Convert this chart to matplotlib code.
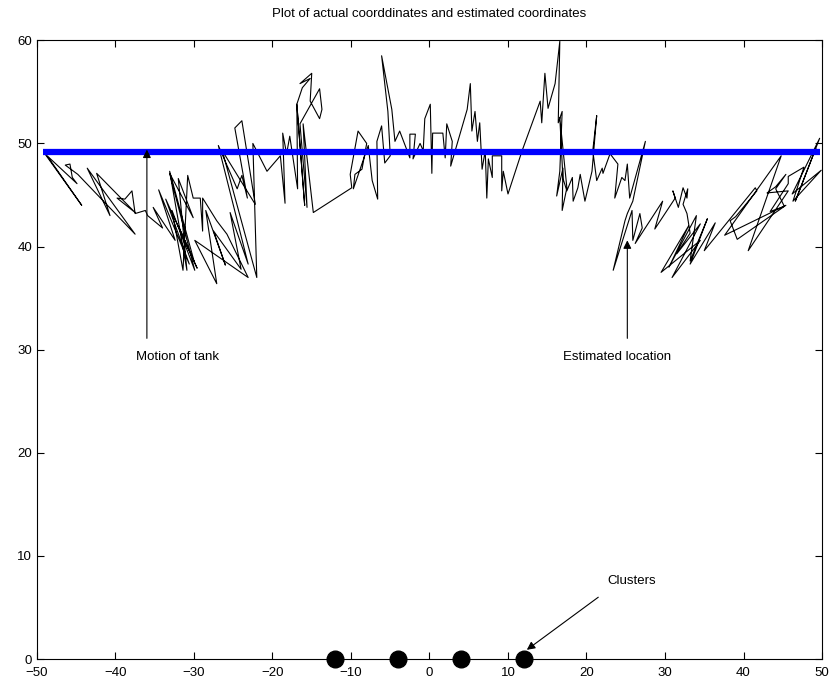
import numpy as np
import matplotlib.pyplot as plt

plt.rcParams['font.family'] = ['Liberation Sans', 'DejaVu Sans']

# estimated tank coordinates
est_x = [-49.0, -44.3, -48.7, -44.9, -45.5, -45.8, -46.4, -44.8, -37.5, -43.6,
         -40.7, -42.4, -37.5, -39.8, -38.8, -37.9, -37.5, -36.2, -35.9, -34.0,
         -35.2, -32.4, -34.5, -30.6, -33.6, -29.6, -32.0, -30.0,
         -33.1, -30.9, -32.0, -30.1, -33.1, -29.9, -32.8, -31.4,
         -30.8, -30.1, -29.2, -28.9, -28.9, -27.1, -25.8, -23.1, -29.9, -27.1,
         -28.5, -26.0, -27.5, -24.0,
         -25.4, -23.1, -26.9, -24.5, -23.9, -23.2, -24.8, -23.9, -22.2, -26.4,
         -22.0, -22.5, -20.7, -19.0, -18.4, -18.7, -18.2, -17.8, -16.8, -16.9,
         -15.9, -16.9, -16.2, -15.2, -16.5, -15.0, -15.2, -14.0, -13.7, -14.0,
         -16.5, -15.6, -16.1, -14.8, -9.9, -10.1, -9.1, -8.0, -8.6, -9.5,
         -9.7, -7.8, -7.3, -6.6, -6.7, -6.1, -5.7, -5.0, -5.3, -6.1,
         -4.8, -4.4, -3.8, -2.5, -2.5, -1.8, -2.1, -1.2, -0.8, -0.6,
         0.1, 0.3, 0.4, 1.7, 2.0, 2.2, 2.9, 2.7, 4.8, 5.2,
         5.4, 5.8, 6.1, 6.4, 6.7, 7.1, 7.3, 7.5, 8.0, 8.0,
         9.2, 9.2, 9.4, 10.0, 11.8, 14.1, 14.3, 14.7, 15.1, 16.0,
         16.6, 16.4, 16.9, 16.6, 16.2, 17.0, 16.9, 17.5, 16.6, 17.0,
         17.5, 18.2, 18.3, 18.9, 19.2, 19.8, 20.7, 21.3, 20.8, 21.3,
         22.0, 22.1, 23.0, 24.0, 23.6, 24.5, 24.9, 25.2, 25.5, 27.5,
         25.9, 25.2, 24.9, 23.4, 25.8, 25.9, 26.8, 27.1, 26.2, 29.7,
         28.7, 31.3, 31.0, 31.7, 32.3, 32.8, 32.9, 32.3, 32.8, 33.2,
         31.5, 34.5, 30.9, 34.5, 29.5, 33.0, 30.5, 34.0,
         33.2, 35.4, 33.2, 36.4, 35.0, 41.5,
         41.7, 39.0, 38.3, 39.2, 45.4, 37.6, 44.8, 40.6, 45.7, 43.0,
         44.1, 45.4, 44.1, 45.2, 43.4, 45.7, 45.7, 47.7, 46.3, 49.9,
         46.2, 49.7, 46.6, 49.2]
est_y = [49.0, 44.0, 48.8, 46.1, 46.7, 48.0, 47.9, 47.0, 41.2, 47.6,
         43.0, 47.1, 43.3, 44.7, 44.6, 45.4, 43.2, 43.5, 43.0, 41.8,
         43.8, 40.6, 45.5, 38.3, 44.6, 37.9, 42.0, 38.6,
         47.3, 37.7, 46.6, 42.8, 47.1, 37.7, 43.5, 37.7,
         46.9, 44.7, 44.7, 41.5, 44.7, 42.5, 41.2, 37.0, 40.6, 36.4,
         43.5, 38.2, 41.5, 37.8,
         43.3, 38.3, 49.8, 45.6, 46.9, 44.7, 51.5, 52.2, 44.1, 49.3,
         37.0, 50.0, 47.3, 48.8, 44.2, 51.0, 49.0, 50.7, 45.6, 53.8,
         44.0, 53.8, 55.4, 56.3, 55.8, 56.8, 54.1, 52.4, 53.3, 55.3,
         51.9, 43.8, 51.9, 43.3, 45.7, 47.0, 51.2, 50.0, 47.5, 47.0,
         45.6, 49.8, 46.4, 44.6, 50.2, 51.7, 48.1, 48.8, 53.1, 58.5,
         53.3, 50.2, 51.2, 48.6, 50.9, 50.9, 48.5, 50.0, 49.3, 52.4,
         53.8, 47.1, 51.0, 51.0, 48.6, 51.9, 50.2, 47.8, 53.3, 55.8,
         51.2, 53.1, 50.2, 52.0, 47.5, 49.3, 44.7, 48.5, 46.7, 48.8,
         48.8, 45.4, 47.3, 45.1, 49.3, 54.1, 52.0, 56.8, 53.4, 55.8,
         59.9, 52.0, 53.1, 47.3, 44.9, 47.6, 43.5, 45.7, 52.5, 46.6,
         45.4, 46.7, 44.4, 45.7, 47.0, 44.4, 47.3, 52.7, 49.3, 46.4,
         47.6, 47.1, 49.0, 48.0, 44.7, 46.7, 46.4, 48.0, 44.7, 50.2,
         44.4, 43.2, 42.5, 37.7, 43.5, 40.6, 43.2, 41.8, 40.3, 44.4,
         41.7, 44.7, 45.4, 43.8, 45.7, 44.7, 45.6, 44.1, 43.2, 41.3,
         39.3, 42.2, 37.0, 40.6, 37.5, 42.0, 38.0, 43.0,
         38.6, 42.7, 38.3, 42.3, 39.6, 45.7,
         45.4, 42.9, 42.5, 40.7, 44.0, 41.1, 48.8, 39.6, 45.4, 45.2,
         45.8, 47.0, 45.6, 43.9, 43.4, 46.1, 46.8, 47.7, 44.4, 47.4,
         45.1, 50.5, 44.4, 49.5]

# actual tank path
path_x = [-49.2, 49.7]
path_y = [49.2, 49.2]

# sensor clusters
cluster_x = [-12, -4, 4, 12]
cluster_y = [0, 0, 0, 0]

fig = plt.figure(figsize=(8.33, 6.83), dpi=100)
ax = fig.add_axes([0.0444, 0.035, 0.9424, 0.906])

ax.plot(est_x, est_y, 'k-', lw=0.8)
ax.plot(path_x, path_y, color='#0000ff', lw=4.5, solid_capstyle='butt')
ax.plot(cluster_x, cluster_y, 'ko', ms=12, clip_on=False, zorder=5)

arrow = dict(arrowstyle='-|>', color='k', lw=0.8, mutation_scale=12, shrinkA=0, shrinkB=0)
ax.annotate('', xy=(-36.0, 49.4), xytext=(-36.0, 31.1), arrowprops=arrow)
ax.text(-37.4, 29.3, 'Motion of tank', fontsize=9.5, va='center', ha='left')
ax.annotate('', xy=(25.2, 40.6), xytext=(25.2, 31.1), arrowprops=arrow)
ax.text(17.0, 29.3, 'Estimated location', fontsize=9.5, va='center', ha='left')
ax.annotate('', xy=(12.4, 0.9), xytext=(21.5, 6.0), arrowprops=arrow)
ax.text(22.6, 7.6, 'Clusters', fontsize=9.5, va='center', ha='left')

ax.set_xlim(-50, 50)
ax.set_ylim(0, 60)
ax.set_xticks(np.arange(-50, 51, 10))
ax.set_yticks(np.arange(0, 61, 10))
ax.tick_params(direction='in', top=True, right=True, length=5, labelsize=9.5)
ax.tick_params(axis='x', pad=6)
ax.set_title('Plot of actual coorddinates and estimated coordinates', fontsize=9.5, pad=17)

fig.savefig('out.png')
